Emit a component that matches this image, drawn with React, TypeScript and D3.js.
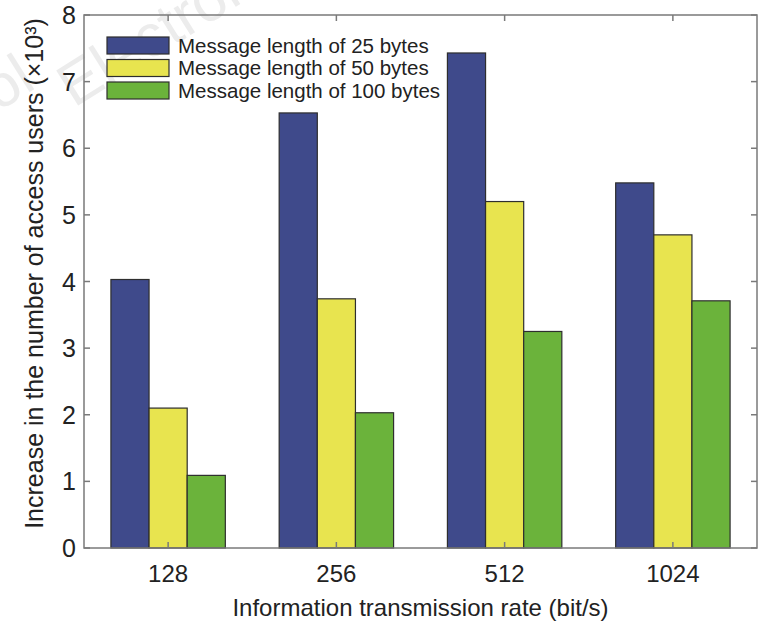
import React, { useRef, useEffect } from 'react';
import * as d3 from 'd3';

const rates = ['128', '256', '512', '1024'];
const seriesNames = [
  'Message length of 25 bytes',
  'Message length of 50 bytes',
  'Message length of 100 bytes',
];
const len25 = [4.03, 6.53, 7.43, 5.48];
const len50 = [2.1, 3.74, 5.2, 4.7];
const len100 = [1.09, 2.03, 3.25, 3.71];
const yTicks = [0, 1, 2, 3, 4, 5, 6, 7, 8];
const colors = ['#3f4a8b', '#e8e44f', '#6bb33b'];

const W = 758;
const H = 623;

const App: React.FC = () => {
  const svgRef = useRef<SVGSVGElement>(null);

  useEffect(() => {
    const svg = d3.select(svgRef.current);
    svg.selectAll('*').remove();

    const margin = { top: 15, right: 1, bottom: 75, left: 84 };
    const x0 = margin.left;
    const x1 = W - margin.right;
    const yTop = margin.top;
    const yBot = H - margin.bottom;
    const font = '"Liberation Sans", Arial, sans-serif';
    const axisColor = '#7a7a7a';

    // watermark, very faint
    svg.append('text')
      .attr('transform', 'translate(74,108) rotate(-32)')
      .attr('font-family', font)
      .attr('font-size', 60)
      .attr('fill', '#ececec')
      .text('Electronics');
    svg.append('text')
      .attr('transform', 'translate(-2,112) rotate(-32)')
      .attr('font-family', font)
      .attr('font-size', 60)
      .attr('fill', '#ececec')
      .text('ol');

    const data = [len25, len50, len100];

    const xScale = d3.scaleBand()
      .domain(rates)
      .range([x0, x1])
      .paddingInner(0.32)
      .paddingOuter(0.16);

    const xSub = d3.scaleBand()
      .domain(seriesNames)
      .range([0, xScale.bandwidth()]);

    const yScale = d3.scaleLinear().domain([0, 8]).range([yBot, yTop]);

    const center = (r: string) => (xScale(r) ?? 0) + xScale.bandwidth() / 2;

    // bars
    const g = svg.append('g');
    seriesNames.forEach((s, si) => {
      g.selectAll(`.bar${si}`)
        .data(data[si])
        .enter()
        .append('rect')
        .attr('x', (_, i) => (xScale(rates[i]) ?? 0) + (xSub(s) ?? 0))
        .attr('y', d => yScale(d))
        .attr('width', xSub.bandwidth())
        .attr('height', d => yBot - yScale(d))
        .attr('fill', colors[si])
        .attr('stroke', '#2e2e2e')
        .attr('stroke-width', 1.2);
    });

    // axes box
    const ax = svg.append('g').attr('stroke', axisColor).attr('stroke-width', 1.5);
    ax.append('rect')
      .attr('x', x0).attr('y', yTop)
      .attr('width', x1 - x0).attr('height', yBot - yTop)
      .attr('fill', 'none');

    // inner ticks on all four sides
    yTicks.forEach(t => {
      const y = yScale(t);
      ax.append('line').attr('x1', x0).attr('x2', x0 + 6).attr('y1', y).attr('y2', y);
      ax.append('line').attr('x1', x1).attr('x2', x1 - 6).attr('y1', y).attr('y2', y);
    });
    rates.forEach(r => {
      const x = center(r);
      ax.append('line').attr('x1', x).attr('x2', x).attr('y1', yBot).attr('y2', yBot - 6);
      ax.append('line').attr('x1', x).attr('x2', x).attr('y1', yTop).attr('y2', yTop + 6);
    });

    // tick labels
    svg.append('g')
      .selectAll('text')
      .data(yTicks)
      .enter()
      .append('text')
      .attr('x', x0 - 8)
      .attr('y', d => yScale(d))
      .attr('dy', '0.36em')
      .attr('text-anchor', 'end')
      .attr('font-family', font)
      .attr('font-size', 25)
      .attr('fill', '#222')
      .text(d => d);

    svg.append('g')
      .selectAll('text')
      .data(rates)
      .enter()
      .append('text')
      .attr('x', d => center(d))
      .attr('y', yBot + 34)
      .attr('text-anchor', 'middle')
      .attr('font-family', font)
      .attr('font-size', 24)
      .attr('fill', '#222')
      .text(d => d);

    // axis titles
    svg.append('text')
      .attr('x', (x0 + x1) / 2)
      .attr('y', H - 7)
      .attr('text-anchor', 'middle')
      .attr('font-family', font)
      .attr('font-size', 24)
      .attr('fill', '#222')
      .text('Information transmission rate (bit/s)');

    svg.append('text')
      .attr('transform', `translate(43,${(yTop + yBot) / 2 - 8}) rotate(-90)`)
      .attr('text-anchor', 'middle')
      .attr('font-family', font)
      .attr('font-size', 25)
      .attr('fill', '#222')
      .text('Increase in the number of access users (×10³)');

    // legend (no frame)
    const leg = svg.append('g').attr('transform', 'translate(107,37)');
    seriesNames.forEach((s, i) => {
      const row = leg.append('g').attr('transform', `translate(0,${i * 22.5})`);
      row.append('rect')
        .attr('width', 62).attr('height', 17)
        .attr('fill', colors[i])
        .attr('stroke', '#2e2e2e')
        .attr('stroke-width', 1.2);
      row.append('text')
        .attr('x', 71)
        .attr('y', 8.5)
        .attr('dy', '0.36em')
        .attr('font-family', font)
        .attr('font-size', 20.5)
        .attr('fill', '#222')
        .text(s);
    });
  }, []);

  return (
    <svg
      ref={svgRef}
      width={W}
      height={H}
      style={{ position: 'absolute', left: 0, top: 0, background: '#fff' }}
    />
  );
};

export default App;
